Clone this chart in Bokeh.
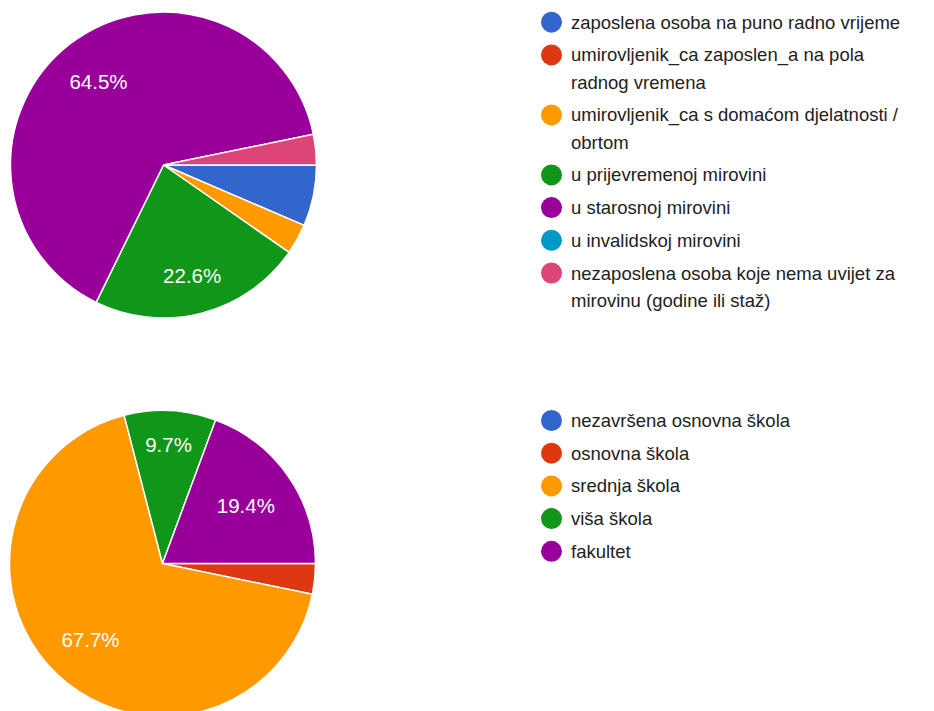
import numpy as np
from bokeh.plotting import figure
from bokeh.models import Range1d, ColumnDataSource
from bokeh.core.properties import value
from bokeh.embed import file_html
from bokeh.resources import INLINE

# ---------------- data ----------------
status_labels = [
    "zaposlena osoba na puno radno vrijeme",
    "umirovljenik_ca zaposlen_a na pola\nradnog vremena",
    "umirovljenik_ca s domaćom djelatnosti /\nobrtom",
    "u prijevremenoj mirovini",
    "u starosnoj mirovini",
    "u invalidskoj mirovini",
    "nezaposlena osoba koje nema uvijet za\nmirovinu (godine ili staž)",
]
status_counts = [2, 0, 1, 7, 20, 0, 1]
status_colors = ["#3366cc", "#dc3912", "#ff9900", "#109618", "#990099", "#0099c6", "#dd4477"]

edu_labels = [
    "nezavršena osnovna škola",
    "osnovna škola",
    "srednja škola",
    "viša škola",
    "fakultet",
]
edu_counts = [0, 1, 21, 3, 6]
edu_colors = ["#3366cc", "#dc3912", "#ff9900", "#109618", "#990099"]

# ---------------- layout ----------------
W, H = 934, 711
FONT = value("Liberation Sans")
R = 153
LABEL_MIN_FRAC = 0.08

p = figure(width=W, height=H, x_range=Range1d(0, W), y_range=Range1d(0, H),
           output_backend="svg", toolbar_location=None, min_border=0)
p.axis.visible = False
p.grid.visible = False
p.outline_line_color = None
p.background_fill_color = "white"
p.border_fill_color = "white"


def draw_pie(cx, cy, counts, colors):
    vals = np.array(counts, dtype=float)
    frac = vals / vals.sum()
    cum = np.concatenate([[0.0], np.cumsum(frac)])
    keep = vals > 0
    src = ColumnDataSource(dict(
        start=(-2 * np.pi * cum[1:])[keep],
        end=(-2 * np.pi * cum[:-1])[keep],
        color=np.array(colors)[keep],
    ))
    p.wedge(x=cx, y=cy, radius=R, start_angle="start", end_angle="end",
            fill_color="color", line_color="white", line_width=1.5, source=src)
    mid = -2 * np.pi * (cum[:-1] + frac / 2)
    lab = frac >= LABEL_MIN_FRAC
    d = R * (0.784 - 0.147 * np.abs(np.cos(mid)))
    lsrc = ColumnDataSource(dict(
        x=(cx + d * np.cos(mid))[lab],
        y=(cy + d * np.sin(mid))[lab],
        text=[f"{f * 100:.1f}%" for f in frac[lab]],
    ))
    p.text(x="x", y="y", text="text", source=lsrc, text_align="center",
           text_baseline="middle", text_color="white", text_font=FONT,
           text_font_size="20.5px")


def draw_legend(x0, y0, labels, colors, step=32.7, line_h=27.3):
    cxs, cys, tx, ty, tt = [], [], [], [], []
    y = y0
    for lab in labels:
        lines = lab.split("\n")
        cxs.append(x0)
        cys.append(y)
        for j, ln in enumerate(lines):
            tx.append(x0 + 19.5)
            ty.append(y - j * line_h)
            tt.append(ln)
        y -= step + line_h * (len(lines) - 1)
    p.scatter(x=cxs, y=cys, size=21, marker="circle", fill_color=colors, line_color=None)
    p.text(x=tx, y=ty, text=tt, text_align="left", text_baseline="middle",
           text_color="#222222", text_font=FONT, text_font_size="18.5px")


draw_pie(163, 546.5, status_counts, status_colors)
draw_legend(551, 689.3, status_labels, status_colors)
draw_pie(162, 148, edu_counts, edu_colors)
draw_legend(551, 291, edu_labels, edu_colors)

open("out.html", "w").write(file_html(p, INLINE))
